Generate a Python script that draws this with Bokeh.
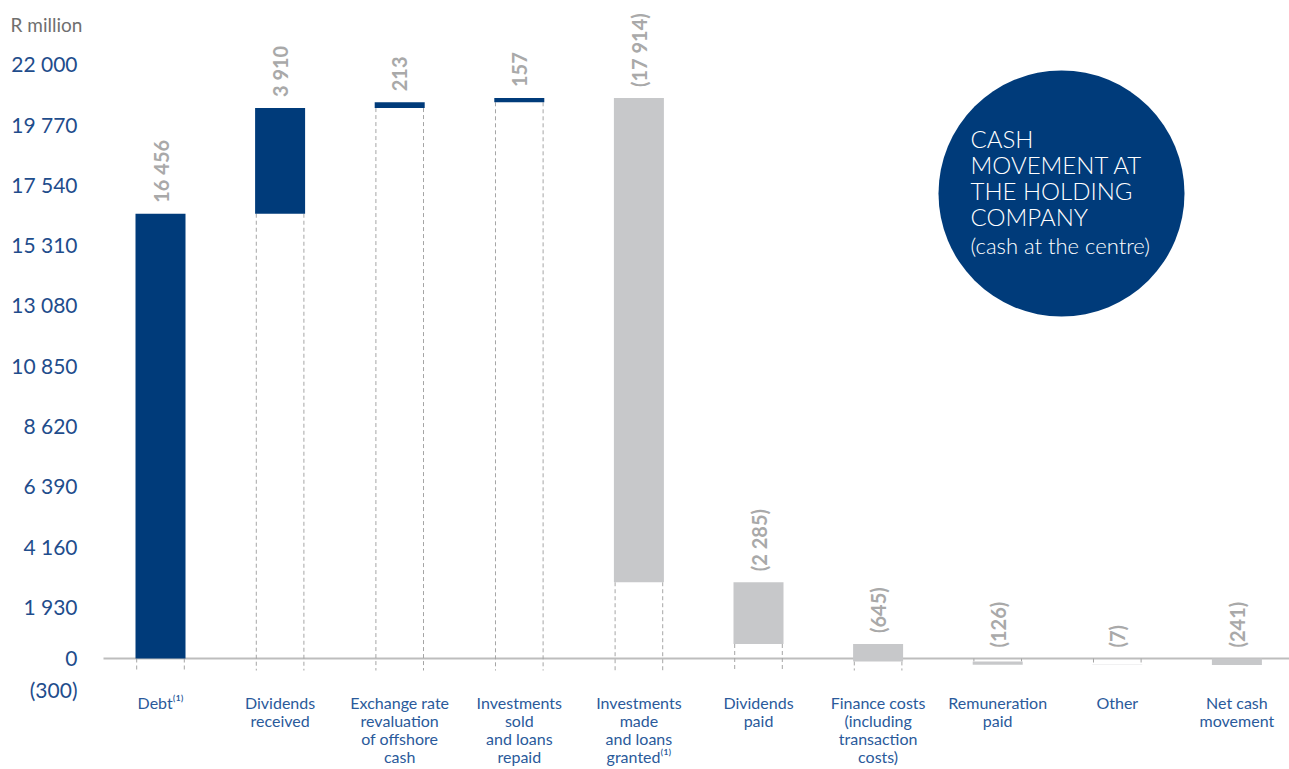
import math
from bokeh.plotting import figure
from bokeh.core.properties import value
from bokeh.embed import file_html
from bokeh.resources import INLINE

# ---------------- data ----------------
categories = [
    "Debt⁽¹⁾",
    "Dividends\nreceived",
    "Exchange rate\nrevaluation\nof offshore\ncash",
    "Investments\nsold\nand loans\nrepaid",
    "Investments\nmade\nand loans\ngranted⁽¹⁾",
    "Dividends\npaid",
    "Finance costs\n(including\ntransaction\ncosts)",
    "Remuneration\npaid",
    "Other",
    "Net cash\nmovement",
]
amounts = [16456, 3910, 213, 157, -17914, -2285, -645, -126, -7, -241]
is_total = [False, False, False, False, False, False, False, False, False, True]
value_labels = ["16 456", "3 910", "213", "157", "(17 914)", "(2 285)",
                "(645)", "(126)", "(7)", "(241)"]
y_tick_values = [0, 1930, 4160, 6390, 8620, 10850, 13080, 15310, 17540, 19770, 22000]
y_tick_labels = ["0", "1 930", "4 160", "6 390", "8 620", "10 850", "13 080",
                 "15 310", "17 540", "19 770", "22 000"]
extra_tick_label = "(300)"
unit_label = "R million"
circle_title = ["CASH", "MOVEMENT AT", "THE HOLDING", "COMPANY"]
circle_sub = "(cash at the centre)"

# ---------------- styling / layout ----------------
W, H = 1289, 769
NAVY = "#003b7a"
GREY = "#c7c8ca"
AXIS_BLUE = "#1f4d8c"
FONT = value("Lato")
LIGHT = value("Lato Light, Lato")
UPP = 37.0            # data units per pixel (vertical)
PX = 119.6            # pixels per category
X0 = 160              # pixel column of the first category
BAR_W = 50 / PX
ZERO_Y = 658          # pixel row of the zero line


def xpix(px):
    return (px - X0) / PX


def ypix(py):
    return (ZERO_Y - py) * UPP


xs = list(range(len(categories)))

bottoms, tops = [], []
running = 0
for a, tot in zip(amounts, is_total):
    if tot:
        b, t = 0, a
    else:
        b, t = running, running + a
        running = t
    bottoms.append(b)
    tops.append(t)
lowers = [min(b, t) for b, t in zip(bottoms, tops)]
uppers = [max(b, t) for b, t in zip(bottoms, tops)]
colors = [NAVY if (a > 0 and not tot) else GREY for a, tot in zip(amounts, is_total)]

p = figure(width=W, height=H, output_backend="svg", toolbar_location=None,
           x_range=(xpix(0), xpix(W)), y_range=(ypix(H), ypix(0)),
           x_axis_location=None, y_axis_location=None,
           min_border_left=0, min_border_right=0, min_border_top=0, min_border_bottom=0)
p.outline_line_color = None
p.grid.visible = False
p.background_fill_color = "white"
p.border_fill_color = "white"

# value axis (labels)
tick_x = xpix(77)
p.text(x=[tick_x] * (len(y_tick_values) + 1),
       y=y_tick_values + [ypix(689)],
       text=y_tick_labels + [extra_tick_label],
       text_align="right", text_baseline="middle", text_font=FONT,
       text_font_size="21px", text_color=AXIS_BLUE)
p.text(x=[xpix(10)], y=[ypix(24)], text=[unit_label], text_align="left",
       text_baseline="middle", text_font=FONT, text_font_size="19px",
       text_color="#6f6f6f")

# zero line
p.segment(x0=[xpix(103)], x1=[xpix(W)], y0=[0], y1=[0], line_color="#bdbdbd", line_width=2)

# dashed connectors
stub_end = ypix(670)
seg_x, seg_y0, seg_y1 = [], [], []
for i, (lo, up, tot) in enumerate(zip(lowers, uppers, is_total)):
    if tot:
        continue
    if up < 0:
        y0, y1 = 0, up
    elif lo > stub_end:
        y0, y1 = lo, stub_end
    else:
        continue
    for dx in (-BAR_W / 2 + 0.01, BAR_W / 2 - 0.01):
        seg_x.append(i + dx)
        seg_y0.append(y0)
        seg_y1.append(y1)
p.segment(x0=seg_x, y0=seg_y0, x1=seg_x, y1=seg_y1, line_color="#a5a5a5",
          line_width=1, line_dash="4 3")

# bars
p.vbar(x=xs, bottom=lowers, top=uppers, width=BAR_W, fill_color=colors, line_color=None)

# value labels
anchors = [max(u, 0) for u in uppers]
p.text(x=xs, y=anchors, text=value_labels, angle=math.pi / 2, text_align="left",
       text_baseline="middle", y_offset=-11, text_font=FONT,
       text_font_size="20px", text_font_style="bold", text_color="#a9a9a9")

# category labels
p.text(x=xs, y=[ypix(692)] * len(xs), text=categories, text_align="center",
       text_baseline="top", text_font=FONT, text_font_size="16px",
       text_color="#2a5a9b", text_line_height=0.95)

# circle annotation
cx, cy = xpix(1061), ypix(193)
p.scatter(x=[cx], y=[cy], size=246, marker="circle", fill_color=NAVY, line_color=None)
p.text(x=[cx] * 4, y=[cy] * 4, text=circle_title, x_offset=-91,
       y_offset=[138 - 193, 164 - 193, 190 - 193, 216 - 193],
       text_align="left", text_baseline="alphabetic", text_font=LIGHT,
       text_font_size="24px", text_color="white")
p.text(x=[cx], y=[cy], text=[circle_sub], x_offset=-91, y_offset=[245 - 193],
       text_align="left", text_baseline="alphabetic", text_font=LIGHT,
       text_font_size="22px", text_color="white")

open("out.html", "w").write(file_html(p, INLINE))
